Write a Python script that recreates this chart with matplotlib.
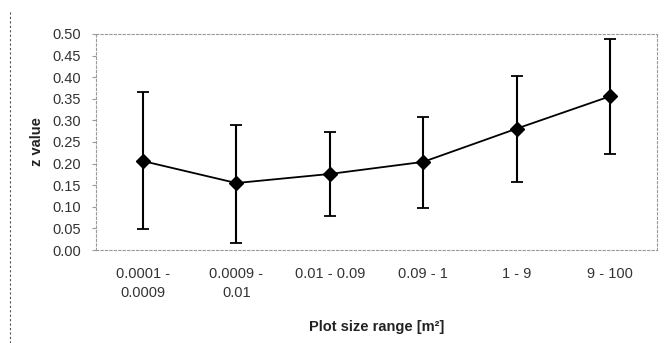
import numpy as np
import matplotlib
matplotlib.use('Agg')
import matplotlib.pyplot as plt
from matplotlib.lines import Line2D

plt.rcParams['font.family'] = ['Liberation Sans', 'DejaVu Sans']

# ── Data ────────────────────────────────────────────────────
categories = ['0.0001 -\n0.0009', '0.0009 -\n0.01', '0.01 - 0.09',
              '0.09 - 1', '1 - 9', '9 - 100']
z_values = [0.206, 0.155, 0.176, 0.204, 0.281, 0.356]
err_upper = [0.160, 0.134, 0.097, 0.104, 0.122, 0.132]
err_lower = [0.158, 0.139, 0.097, 0.106, 0.124, 0.134]
y_ticks = np.arange(0, 0.501, 0.05)

# ── Figure ──────────────────────────────────────────────────
fig = plt.figure(figsize=(6.65, 3.43), dpi=100)
ax = fig.add_axes([96 / 665, 1 - 250 / 343, (657 - 96) / 665, (250 - 34) / 343])

x = np.arange(len(categories))
ax.errorbar(x, z_values, yerr=[err_lower, err_upper], color='black',
            linewidth=1.3, elinewidth=1.5, capsize=4, capthick=1.3,
            marker='D', markersize=7, markerfacecolor='black', zorder=3)

ax.set_xlim(-0.5, len(categories) - 0.5)
ax.set_ylim(0, 0.5)
ax.set_yticks(y_ticks)
ax.set_yticklabels([f'{v:.2f}' for v in y_ticks])
ax.set_xticks(x)
ax.set_xticklabels(categories, linespacing=1.5)

for side in ['top', 'right', 'left', 'bottom']:
    ax.spines[side].set_linestyle((0, (2, 2)))
    ax.spines[side].set_color('#999999')
    ax.spines[side].set_linewidth(0.8)

ax.tick_params(axis='x', labelsize=10.5, colors='#333333', length=0, pad=12)
ax.tick_params(axis='y', labelsize=10.5, colors='#333333', length=3,
               color='#999999', pad=8)

ax.set_ylabel('z value', fontsize=10.5, fontweight='bold', color='#222222', labelpad=6)
ax.set_xlabel('Plot size range [m²]', fontsize=10.5, fontweight='bold',
              color='#222222', labelpad=14)

# outer chart-area border on the left
fig.add_artist(Line2D([10 / 665, 10 / 665], [0, 0.97], transform=fig.transFigure,
                      color='#555555', linewidth=0.8, linestyle=(0, (2, 2))))

fig.savefig('out.png', dpi=100)
